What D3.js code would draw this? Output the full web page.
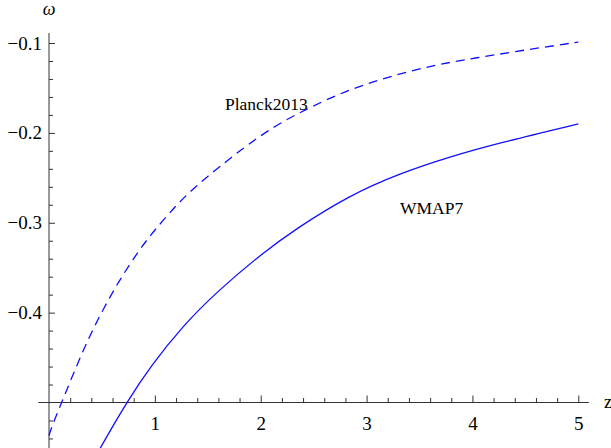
<!DOCTYPE html>
<html>
<head>
<meta charset="utf-8">
<script src="https://cdn.jsdelivr.net/npm/d3@7"></script>
<style>
  body { margin: 0; background: #fff; }
  text { font-family: "Liberation Serif", "Times New Roman", serif; fill: #000; }
</style>
</head>
<body>
<svg id="chart" width="611" height="448"></svg>
<script>
// data
const planckZ = [0, 0.025, 0.12, 0.214, 0.324, 0.435, 0.576, 0.687, 0.828, 0.954, 1.08, 1.206, 1.332, 1.474, 1.615, 1.788, 2.117, 2.433, 2.748, 3.063, 3.378, 3.693, 4.008, 4.54, 5]
const planckW = [-0.537, -0.527, -0.5, -0.4725, -0.4418, -0.4135, -0.3824, -0.3601, -0.3345, -0.3145, -0.297, -0.2803, -0.2655, -0.2506, -0.2376, -0.221, -0.193, -0.1736, -0.156, -0.143, -0.132, -0.1235, -0.117, -0.107, -0.099]
const wmapZ = [0.45, 0.55, 0.734, 0.954, 1.269, 1.584, 1.993, 2.324, 2.843, 3.316, 3.788, 4.26, 5]
const wmapW = [-0.558, -0.537, -0.5, -0.4604, -0.414, -0.377, -0.336, -0.3073, -0.2692, -0.245, -0.2265, -0.211, -0.19]

const xMajor = [1, 2, 3, 4, 5]
const yMajor = [-0.4, -0.3, -0.2, -0.1]
const xLabels = ["1", "2", "3", "4", "5"]
const yLabels = ["\u22120.4", "\u22120.3", "\u22120.2", "\u22120.1"]

const svg = d3.select("#chart")
const serif = "'Liberation Serif', 'Times New Roman', serif"

// scales: axes cross at (0, -0.5)
const x = d3.scaleLinear().domain([0, 5]).range([49, 578.3])
const y = d3.scaleLinear().domain([-0.5, -0.1]).range([402.5, 43])

const xMinor = d3.range(1, 26).map(i => i * 0.2).filter(v => Math.abs(v - Math.round(v)) > 1e-6)
const yMinor = d3.range(-0.56, -0.099, 0.02).filter(v => Math.abs(v * 10 - Math.round(v * 10)) > 1e-6)

const axisCol = "#333"

// x axis
const gx = svg.append("g").attr("transform", `translate(0,${y(-0.5)})`)
gx.append("line").attr("x1", x(-0.1)).attr("x2", x(5.1)).attr("stroke", axisCol)
gx.append("g")
  .call(d3.axisBottom(x).tickValues(xMinor).tickSize(-4.5).tickFormat(""))
  .call(g => g.select(".domain").remove())
gx.append("g")
  .call(d3.axisBottom(x).tickValues(xMajor).tickSize(-7).tickPadding(14)
    .tickFormat((d, i) => xLabels[i]))
  .call(g => g.select(".domain").remove())
  .attr("font-family", serif).attr("font-size", 19)
gx.selectAll(".tick line").attr("stroke", axisCol)

// y axis
const gy = svg.append("g").attr("transform", `translate(${x(0)},0)`)
gy.append("line").attr("y1", 33).attr("y2", 448).attr("stroke", axisCol)
gy.append("g")
  .call(d3.axisLeft(y).tickValues(yMinor).tickSize(-4).tickFormat(""))
  .call(g => g.select(".domain").remove())
gy.append("g")
  .call(d3.axisLeft(y).tickValues(yMajor).tickSize(-6).tickPadding(7)
    .tickFormat((d, i) => yLabels[i]))
  .call(g => g.select(".domain").remove())
  .attr("font-family", serif).attr("font-size", 19)
gy.selectAll(".tick line").attr("stroke", axisCol)

// axis titles
svg.append("text").attr("x", 49).attr("y", 15).attr("text-anchor", "middle")
  .style("font-size", "18px").style("font-style", "italic").text("\u03c9")
svg.append("text").attr("x", 604).attr("y", 408)
  .style("font-size", "18px").text("z")

// curves
const line = d3.line()
  .x(d => x(d[0]))
  .y(d => y(d[1]))
  .curve(d3.curveBasis)

svg.append("path")
  .datum(d3.zip(planckZ, planckW))
  .attr("d", line)
  .attr("fill", "none")
  .attr("stroke", "#1010ff")
  .attr("stroke-width", 1.3)
  .attr("stroke-dasharray", "9,6")

svg.append("path")
  .datum(d3.zip(wmapZ, wmapW))
  .attr("d", line)
  .attr("fill", "none")
  .attr("stroke", "#1010ff")
  .attr("stroke-width", 1.3)

// curve labels
svg.append("text").attr("x", 225).attr("y", 110).style("font-size", "17.5px").text("Planck2013")
svg.append("text").attr("x", 400).attr("y", 214).style("font-size", "17.5px").text("WMAP7")
</script>
</body>
</html>
